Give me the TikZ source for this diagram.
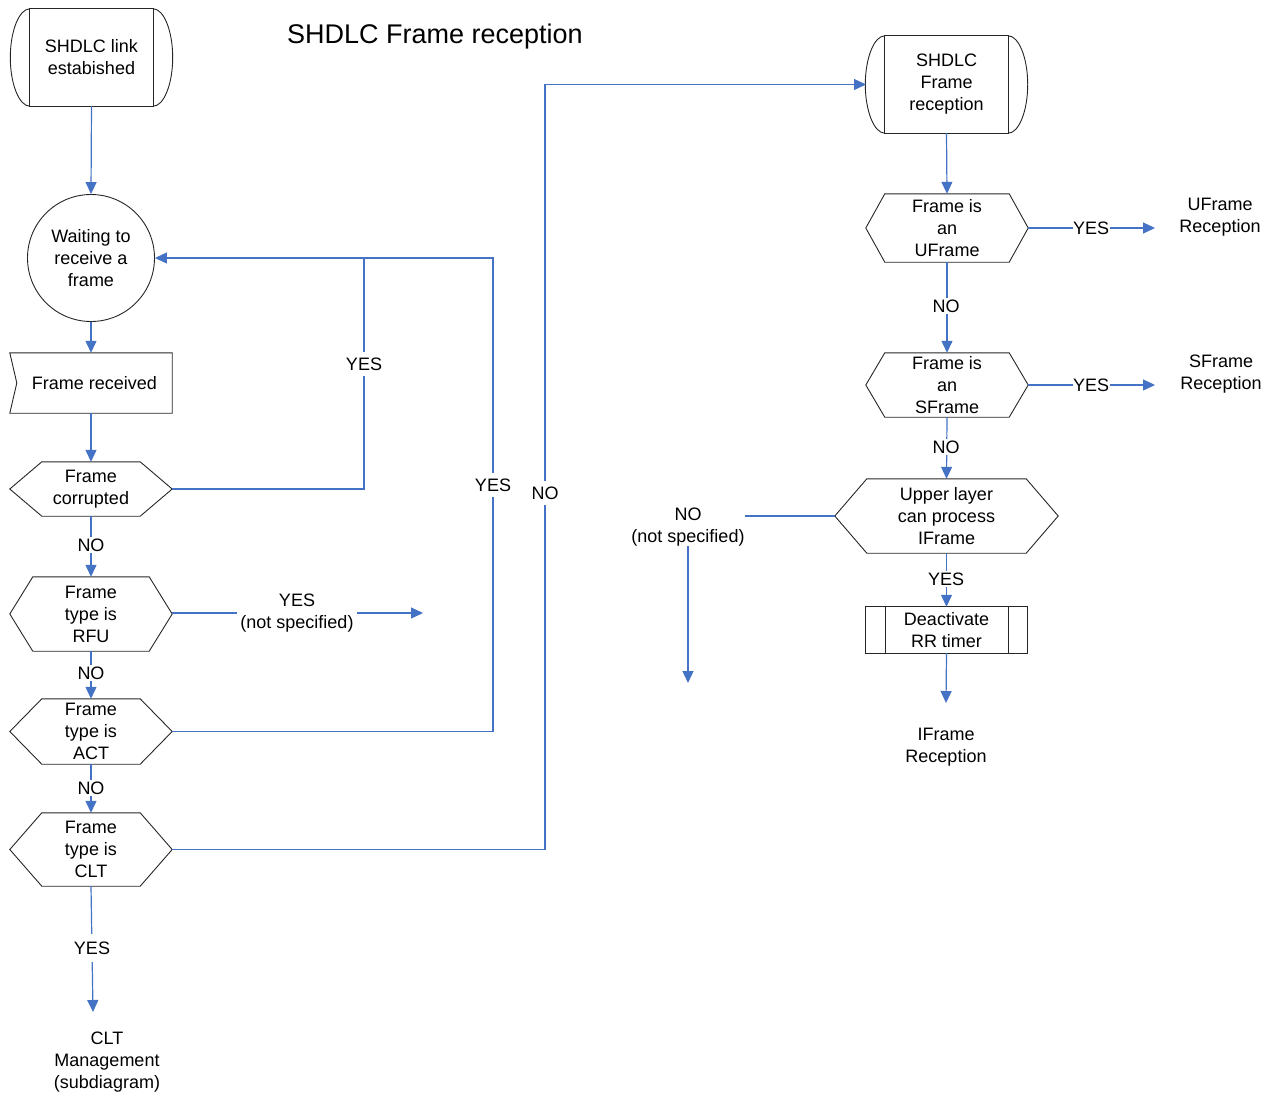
\documentclass[tikz,border=0pt]{standalone}
\usepackage{fontspec}
\setmainfont{Liberation Sans}
\usetikzlibrary{arrows.meta}
\definecolor{cblue}{HTML}{4472C4}
\newcommand{\hexshape}[2]{\draw[shapeline] (#1.west) -- ([xshift=#2]#1.north west) -- ([xshift=-#2]#1.north east) -- (#1.east) -- ([xshift=-#2]#1.south east) -- ([xshift=#2]#1.south west) -- cycle;}
\newcommand{\termshape}[1]{%
  \draw[shapeline] (#1.north west) rectangle (#1.south east);
  \draw[shapeline] (#1.north east) .. controls ([xshift=10.5]#1.north east) and ([xshift=19.5,yshift=26.8]#1.east) .. ([xshift=19.5]#1.east)
     .. controls ([xshift=19.5,yshift=-26.8]#1.east) and ([xshift=10.5]#1.south east) .. (#1.south east);
  \draw[shapeline] (#1.north west) .. controls ([xshift=-10.5]#1.north west) and ([xshift=-19.5,yshift=26.8]#1.west) .. ([xshift=-19.5]#1.west)
     .. controls ([xshift=-19.5,yshift=-26.8]#1.west) and ([xshift=-10.5]#1.south west) .. (#1.south west);}
\begin{document}
\begin{tikzpicture}[x=1pt,y=-1pt,
  txt/.style={font=\fontsize{18}{22}\selectfont, align=center, inner sep=0pt},
  shapeline/.style={draw=black!85, line width=0.9pt},
  conn/.style={draw=cblue, line width=1.2pt},
  arr/.style={conn, -{Triangle[length=12pt,width=11pt]}},
  gap/.style={txt, fill=white, inner sep=1.5pt},
]
\useasboundingbox (0,0) rectangle (1274,1095);

% title
\node[txt, font=\fontsize{27}{32}\selectfont] (title) at (435,37) {SHDLC Frame reception};

% left column
\node[txt, minimum width=123, minimum height=97] (start) at (91.5,57.5) {SHDLC link\\estabished};
\termshape{start}
\node[txt, circle, draw=black!85, line width=0.9pt, minimum size=127] (wait) at (91,258) {Waiting to\\receive a\\frame};
\node[txt, minimum width=155, minimum height=60] (fr) at (94.5,383) {Frame received};
\draw[shapeline] ([xshift=-7]fr.north west) -- (fr.north east) -- (fr.south east) -- ([xshift=-7]fr.south west) -- (fr.west) -- cycle;
\node[txt, minimum width=162, minimum height=54] (fc) at (91,489) {Frame\\corrupted};
\hexshape{fc}{32}
\node[txt, minimum width=162, minimum height=74] (rfu) at (91,614) {Frame\\type is\\RFU};
\hexshape{rfu}{23}
\node[txt, minimum width=162, minimum height=65] (act) at (91,731.5) {Frame\\type is\\ACT};
\hexshape{act}{32}
\node[txt, minimum width=162, minimum height=73] (clt) at (91,849.5) {Frame\\type is\\CLT};
\hexshape{clt}{32}
\node[txt] (cltm) at (107,1062) {CLT\\Management\\(subdiagram)};

% right column
\node[txt, minimum width=123, minimum height=97] (sfr) at (946.5,84.5) {SHDLC\\Frame\\reception};
\termshape{sfr}
\node[txt, minimum width=162, minimum height=68] (uf) at (947,228) {Frame is\\an\\UFrame};
\hexshape{uf}{19}
\node[txt, minimum width=162, minimum height=64] (sf) at (947,385) {Frame is\\an\\SFrame};
\hexshape{sf}{19}
\node[txt, minimum width=223, minimum height=74] (ul) at (946.5,516) {Upper layer\\can process\\IFrame};
\hexshape{ul}{32}
\node[txt, minimum width=161, minimum height=46] (deact) at (946.5,630) {Deactivate\\RR timer};
\draw[shapeline] (deact.north west) rectangle (deact.south east);
\draw[shapeline] ([xshift=20]deact.north west) -- ([xshift=20]deact.south west);
\draw[shapeline] ([xshift=-19]deact.north east) -- ([xshift=-19]deact.south east);
\node[txt] (ufr) at (1220,217) {UFrame\\Reception};
\node[txt] (sfrr) at (1221,374) {SFrame\\Reception};
\node[txt] (ifr) at (946,747) {IFrame\\Reception};
\node[txt] (nsp) at (688,527) {NO\\(not specified)};

% coordinates
\coordinate (j1) at (364,258);
\coordinate (j2) at (493,258);
\coordinate (c1) at (545,849.5);
\coordinate (c2) at (545,84.5);
\coordinate (sfrin) at (866,84.5);
\coordinate (rfuend) at (423,613);
\coordinate (cltend) at (93,1012);
\coordinate (uend) at (1155,228);
\coordinate (send) at (1155,385);
\coordinate (nspend) at (688,683);
\coordinate (iend) at (946,703);

% connectors left
\draw[arr] (start.south) -- (wait.north);
\draw[arr] (wait.south) -- (wait.south |- fr.north);
\draw[arr] (wait.south |- fr.south) -- (fc.north);
\draw[arr] (fc.south) -- (rfu.north);
\draw[arr] (rfu.south) -- (act.north);
\draw[arr] (act.south) -- (clt.north);
\draw[arr] (clt.south) -- (cltend);
\draw[conn] (fc.east) -| (j1);
\draw[arr] (act.east) -| (j2) -- (wait.east);
\draw[arr] (clt.east) -- (c1) -- (c2) -- (sfrin);
\draw[arr] (rfu.east |- rfuend) -- (rfuend);

% connectors right
\draw[arr] (sfr.south) -- (uf.north);
\draw[arr] (uf.south) -- (sf.north);
\draw[arr] (sf.south) -- (ul.north);
\draw[arr] (ul.south) -- (deact.north);
\draw[arr] (deact.south) -- (iend);
\draw[arr] (uf.east) -- (uend);
\draw[arr] (sf.east) -- (send);
\draw[conn] (ul.west) -- (ul.west -| nsp.east);
\draw[arr] (nsp.south) -- (nspend);

% labels on connectors
\node[txt, fill=white, inner sep=3pt] (rfuout) at (297,613) {YES\\(not specified)};
\node[gap] (l1) at (91,545) {NO};
\node[gap] (l2) at (91,673) {NO};
\node[gap] (l3) at (91,788) {NO};
\node[gap, inner ysep=8pt] (l4) at (92,948) {YES};
\node[gap, inner ysep=6pt] (l5) at (364,364) {YES};
\node[gap, inner ysep=6pt] (l6) at (493,485) {YES};
\node[gap, inner ysep=6pt] (l7) at (545,493) {NO};
\node[gap] (l8) at (946,306) {NO};
\node[gap] (l9) at (946,447) {NO};
\node[gap] (l10) at (946,579) {YES};
\node[gap, inner sep=0.5pt] (l11) at (1091,228) {YES};
\node[gap, inner sep=0.5pt] (l12) at (1091,385) {YES};
\end{tikzpicture}
\end{document}
